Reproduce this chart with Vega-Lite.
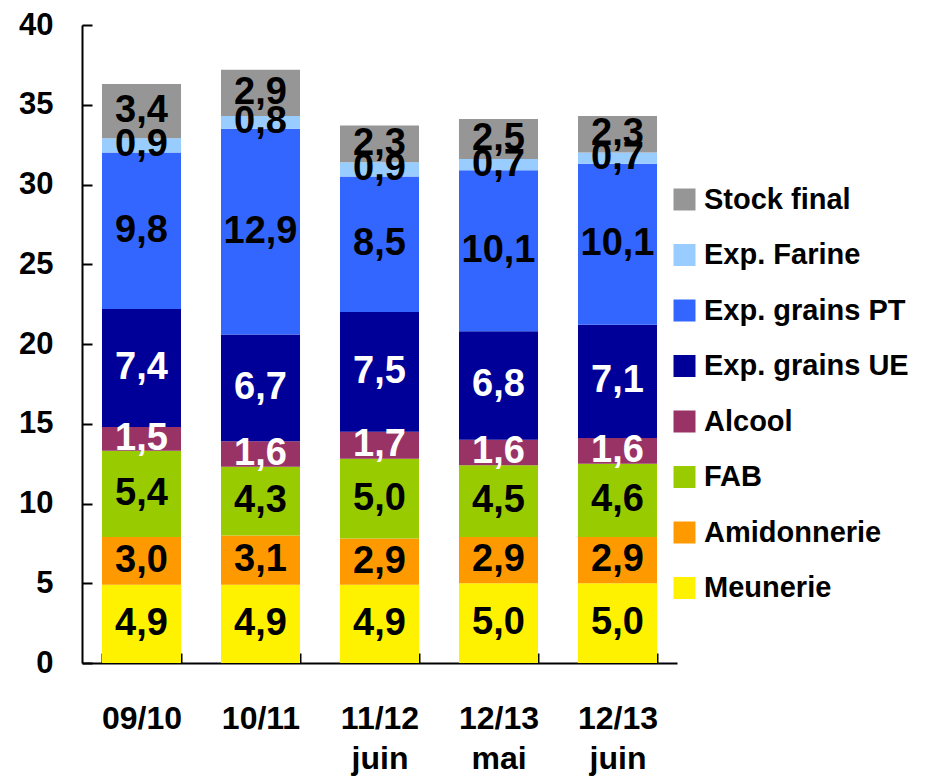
{
  "$schema": "https://vega.github.io/schema/vega-lite/v6.json",
  "autosize": "none",
  "width": 595,
  "height": 638,
  "padding": {"left": 82, "top": 25, "right": 252, "bottom": 115},
  "background": "white",
  "config": {
    "view": {"stroke": null},
    "font": "Liberation Sans",
    "locale": {"number": {"decimal": ",", "thousands": " ", "grouping": [3], "currency": ["", " €"]}}
  },
  "data": {
    "values": [
      {"cat": "09/10", "series": "Meunerie", "value": 4.9},
      {"cat": "09/10", "series": "Amidonnerie", "value": 3.0},
      {"cat": "09/10", "series": "FAB", "value": 5.4},
      {"cat": "09/10", "series": "Alcool", "value": 1.5},
      {"cat": "09/10", "series": "Exp. grains UE", "value": 7.4},
      {"cat": "09/10", "series": "Exp. grains PT", "value": 9.8},
      {"cat": "09/10", "series": "Exp. Farine", "value": 0.9},
      {"cat": "09/10", "series": "Stock final", "value": 3.4},
      {"cat": "10/11", "series": "Meunerie", "value": 4.9},
      {"cat": "10/11", "series": "Amidonnerie", "value": 3.1},
      {"cat": "10/11", "series": "FAB", "value": 4.3},
      {"cat": "10/11", "series": "Alcool", "value": 1.6},
      {"cat": "10/11", "series": "Exp. grains UE", "value": 6.7},
      {"cat": "10/11", "series": "Exp. grains PT", "value": 12.9},
      {"cat": "10/11", "series": "Exp. Farine", "value": 0.8},
      {"cat": "10/11", "series": "Stock final", "value": 2.9},
      {"cat": "11/12 juin", "series": "Meunerie", "value": 4.9},
      {"cat": "11/12 juin", "series": "Amidonnerie", "value": 2.9},
      {"cat": "11/12 juin", "series": "FAB", "value": 5.0},
      {"cat": "11/12 juin", "series": "Alcool", "value": 1.7},
      {"cat": "11/12 juin", "series": "Exp. grains UE", "value": 7.5},
      {"cat": "11/12 juin", "series": "Exp. grains PT", "value": 8.5},
      {"cat": "11/12 juin", "series": "Exp. Farine", "value": 0.9},
      {"cat": "11/12 juin", "series": "Stock final", "value": 2.3},
      {"cat": "12/13 mai", "series": "Meunerie", "value": 5.0},
      {"cat": "12/13 mai", "series": "Amidonnerie", "value": 2.9},
      {"cat": "12/13 mai", "series": "FAB", "value": 4.5},
      {"cat": "12/13 mai", "series": "Alcool", "value": 1.6},
      {"cat": "12/13 mai", "series": "Exp. grains UE", "value": 6.8},
      {"cat": "12/13 mai", "series": "Exp. grains PT", "value": 10.1},
      {"cat": "12/13 mai", "series": "Exp. Farine", "value": 0.7},
      {"cat": "12/13 mai", "series": "Stock final", "value": 2.5},
      {"cat": "12/13 juin", "series": "Meunerie", "value": 5.0},
      {"cat": "12/13 juin", "series": "Amidonnerie", "value": 2.9},
      {"cat": "12/13 juin", "series": "FAB", "value": 4.6},
      {"cat": "12/13 juin", "series": "Alcool", "value": 1.6},
      {"cat": "12/13 juin", "series": "Exp. grains UE", "value": 7.1},
      {"cat": "12/13 juin", "series": "Exp. grains PT", "value": 10.1},
      {"cat": "12/13 juin", "series": "Exp. Farine", "value": 0.7},
      {"cat": "12/13 juin", "series": "Stock final", "value": 2.3}
    ]
  },
  "transform": [
    {"calculate": "indexof(['Meunerie','Amidonnerie','FAB','Alcool','Exp. grains UE','Exp. grains PT','Exp. Farine','Stock final'], datum.series)", "as": "stackOrder"}
  ],
  "encoding": {
    "x": {
      "field": "cat", "type": "nominal", "sort": null, "title": null,
      "scale": {"paddingInner": 0.336, "paddingOuter": 0.168},
      "axis": {
        "labelAngle": 0, "labelExpr": "split(datum.label, ' ')",
        "labelFont": "Liberation Sans", "labelFontSize": 32, "labelFontWeight": "bold", "labelColor": "black",
        "labelBaseline": "top", "labelLineHeight": 40, "labelPadding": 50,
        "tickBand": "extent", "tickSize": -10, "tickWidth": 2, "tickColor": "black",
        "domainColor": "black", "domainWidth": 2, "grid": false
      }
    },
    "y": {
      "field": "value", "type": "quantitative", "stack": "zero", "title": null,
      "scale": {"domain": [0, 40], "nice": false},
      "axis": {
        "values": [0, 5, 10, 15, 20, 25, 30, 35, 40],
        "labelFont": "Liberation Sans", "labelFontSize": 31, "labelFontWeight": "bold", "labelColor": "black",
        "labelPadding": 39, "tickSize": -10, "tickWidth": 2, "tickColor": "black",
        "domainColor": "black", "domainWidth": 2, "grid": false
      }
    },
    "order": {"field": "stackOrder", "type": "quantitative", "sort": "ascending"}
  },
  "layer": [
    {
      "mark": {"type": "bar", "opacity": 1},
      "encoding": {
        "color": {
          "field": "series", "type": "nominal",
          "scale": {
            "domain": ["Stock final", "Exp. Farine", "Exp. grains PT", "Exp. grains UE", "Alcool", "FAB", "Amidonnerie", "Meunerie"],
            "range": ["#969696", "#99CCFF", "#3366FF", "#000099", "#993366", "#99CC00", "#FF9900", "#FFF200"]
          },
          "legend": {
            "title": null, "orient": "none", "legendX": 588, "legendY": 160,
            "symbolType": "square", "symbolSize": 484, "symbolStrokeWidth": 0, "symbolOpacity": 1,
            "labelFont": "Liberation Sans", "labelFontSize": 29, "labelFontWeight": "bold", "labelColor": "black",
            "labelOffset": 5, "rowPadding": 25.5, "padding": 0, "labelLimit": 400
          }
        }
      }
    },
    {
      "mark": {"type": "text", "font": "Liberation Sans", "fontSize": 38, "fontWeight": "bold", "baseline": "middle", "align": "center"},
      "encoding": {
        "y": {"field": "value", "type": "quantitative", "stack": "zero", "bandPosition": 0.5},
        "detail": {"field": "series", "type": "nominal"},
        "text": {"field": "value", "type": "quantitative", "format": ".1f"},
        "fill": {
          "condition": {"test": "datum.series === 'Exp. grains UE' || datum.series === 'Alcool'", "value": "white"},
          "value": "black"
        }
      }
    }
  ]
}
